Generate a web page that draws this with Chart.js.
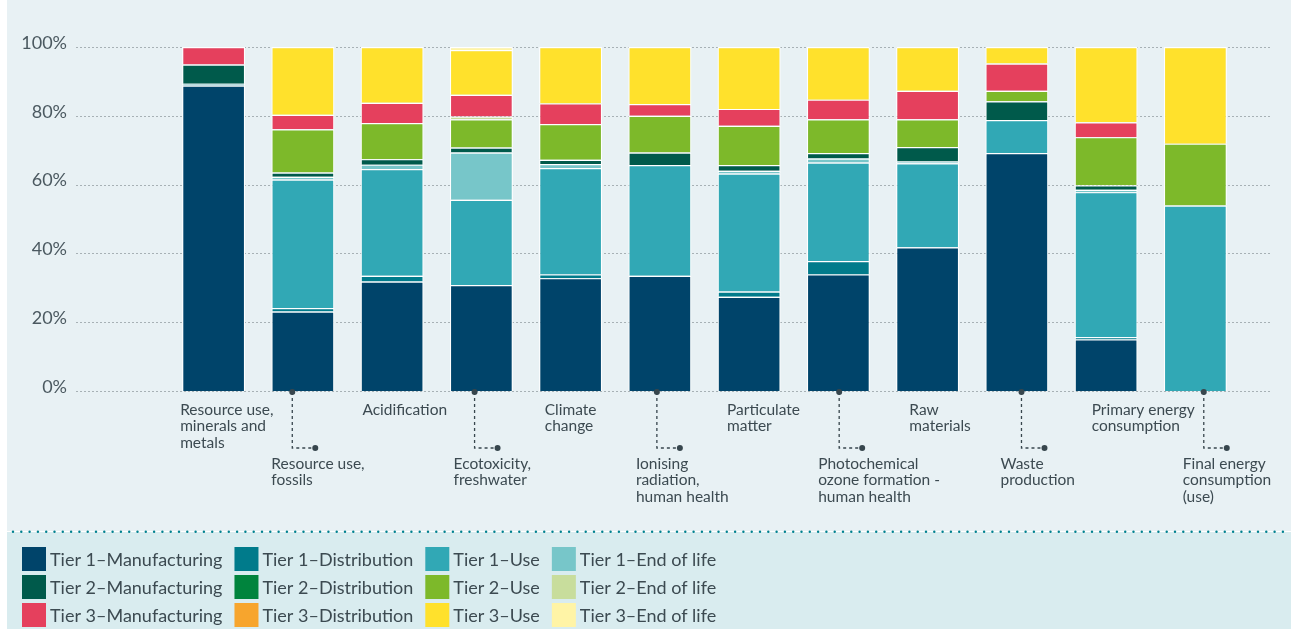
<!DOCTYPE html>
<html lang="en">
<head>
  <meta charset="UTF-8">
  <meta name="viewport" content="width=device-width, initial-scale=1.0">
  <title>Environmental impacts by tier and life-cycle stage</title>
  <style>
    html, body {
      margin: 0;
      padding: 0;
      overflow: hidden;
      background: linear-gradient(#e8f1f4 0, #e8f1f4 531px, #d9ecef 531px);
      font-family: Lato, Arial, sans-serif;
    }
    .chart-container {
      width: 1291px;
      height: 629px;
    }
    canvas { display: block; }
  </style>
</head>
<body>

<div class="chart-container">
  <canvas id="impactChart"></canvas>
</div>

<script src="https://cdn.jsdelivr.net/npm/chart.js"></script>
<script>
  // impact categories (one bar each), already split into label lines
  const categories = [
    ['Resource use,', 'minerals and', 'metals'],
    ['Resource use,', 'fossils'],
    ['Acidification'],
    ['Ecotoxicity,', 'freshwater'],
    ['Climate', 'change'],
    ['Ionising', 'radiation,', 'human health'],
    ['Particulate', 'matter'],
    ['Photochemical', 'ozone formation -', 'human health'],
    ['Raw', 'materials'],
    ['Waste', 'production'],
    ['Primary energy', 'consumption'],
    ['Final energy', 'consumption', '(use)']
  ];

  const yTicks = [0, 20, 40, 60, 80, 100];

  const seriesNames = [
    'Tier 1\u2013Manufacturing', 'Tier 1\u2013Distribution', 'Tier 1\u2013Use', 'Tier 1\u2013End of life',
    'Tier 2\u2013Manufacturing', 'Tier 2\u2013Distribution', 'Tier 2\u2013Use', 'Tier 2\u2013End of life',
    'Tier 3\u2013Manufacturing', 'Tier 3\u2013Distribution', 'Tier 3\u2013Use', 'Tier 3\u2013End of life'
  ];

  // share of each impact, %
  const tier1Manufacturing = [88.8, 23.1, 31.8, 30.8, 32.8, 33.5, 27.4, 33.9, 41.8, 69.2, 15.0, 0];
  const tier1Distribution  = [0.5, 1.0, 1.7, 0, 1.1, 0, 1.5, 3.9, 0, 0, 0.7, 0];
  const tier1Use           = [0, 37.4, 31.0, 24.8, 30.9, 32.2, 34.3, 28.6, 24.4, 9.6, 42.1, 53.9];
  const tier1EndOfLife     = [0, 0.8, 1.3, 13.7, 1.2, 0, 0.8, 1.2, 0.5, 0, 0.7, 0];
  const tier2Manufacturing = [5.6, 1.2, 1.6, 1.5, 1.2, 3.6, 1.7, 1.6, 4.2, 5.4, 1.3, 0];
  const tier2Distribution  = [0, 0, 0, 0, 0, 0, 0, 0, 0, 0, 0, 0];
  const tier2Use           = [0, 12.6, 10.5, 8.2, 10.4, 10.7, 11.4, 9.8, 8.1, 3.1, 14.0, 18.0];
  const tier2EndOfLife     = [0, 0, 0, 0.8, 0, 0, 0, 0, 0, 0, 0, 0];
  const tier3Manufacturing = [5.1, 4.2, 5.9, 6.3, 6.0, 3.4, 4.9, 5.7, 8.3, 7.9, 4.3, 0];
  const tier3Distribution  = [0, 0, 0, 0, 0, 0, 0, 0, 0, 0, 0, 0];
  const tier3Use           = [0, 19.7, 16.2, 13.0, 16.4, 16.6, 18.0, 15.3, 12.7, 4.8, 21.9, 28.1];
  const tier3EndOfLife     = [0, 0, 0, 0.9, 0, 0, 0, 0, 0, 0, 0, 0];

  const seriesValues = [
    tier1Manufacturing, tier1Distribution, tier1Use, tier1EndOfLife,
    tier2Manufacturing, tier2Distribution, tier2Use, tier2EndOfLife,
    tier3Manufacturing, tier3Distribution, tier3Use, tier3EndOfLife
  ];

  const tierColors = [
    '#00446a', '#007b8b', '#31a8b5', '#77c6c9',
    '#005a4b', '#00843d', '#7db92a', '#c8dd9c',
    '#e5405d', '#f7a52d', '#ffe12c', '#fff4a6'
  ];

  const TEXT = '#3c4a51';
  const FONT = 'Lato, "Open Sans", Arial, sans-serif';

  // panel backgrounds + dotted separator above the legend
  const panelPlugin = {
    id: 'panel',
    beforeDraw(chart) {
      const ctx = chart.ctx;
      ctx.save();
      ctx.fillStyle = '#ffffff';
      ctx.fillRect(0, 0, chart.width, chart.height);
      ctx.fillStyle = '#e8f1f4';
      ctx.fillRect(7, 0, chart.width - 7, 531);
      ctx.fillStyle = '#d9ecef';
      ctx.fillRect(7, 531, chart.width - 7, chart.height - 531);
      ctx.fillStyle = '#ffffff';
      ctx.fillRect(7, 531, chart.width - 7, 1);
      ctx.fillStyle = '#00818f';
      for (let x = 13; x < chart.width; x += 8.3) {
        ctx.beginPath();
        ctx.arc(x, 531.8, 1.2, 0, Math.PI * 2);
        ctx.fill();
      }
      ctx.restore();
    }
  };

  // dotted horizontal grid that runs wider than the bars
  const gridPlugin = {
    id: 'dottedGrid',
    beforeDatasetsDraw(chart) {
      const {ctx, scales: {y}} = chart;
      ctx.save();
      ctx.strokeStyle = '#a7b1b5';
      ctx.lineWidth = 1;
      ctx.setLineDash([2, 2]);
      y.ticks.forEach(t => {
        const py = Math.round(y.getPixelForValue(t.value)) + 0.5;
        ctx.beginPath();
        ctx.moveTo(76, py);
        ctx.lineTo(1271, py);
        ctx.stroke();
      });
      ctx.restore();
    }
  };

  // category labels in two staggered rows, lower row gets a dotted leader
  const labelPlugin = {
    id: 'staggeredLabels',
    afterDatasetsDraw(chart) {
      const {ctx, chartArea} = chart;
      const bars = chart.getDatasetMeta(0).data;
      const base = chartArea.bottom;
      ctx.save();
      ctx.font = '15.5px ' + FONT;
      ctx.fillStyle = TEXT;
      ctx.textAlign = 'left';
      ctx.textBaseline = 'middle';
      categories.forEach((lines, i) => {
        const bar = bars[i];
        const tx = bar.x - 33.5 + 1.9 * i; // labels drift a little right of the bars in the original
        const lower = i % 2 === 1;
        const top = base + (lower ? 73 : 19);
        lines.forEach((line, k) => ctx.fillText(line, tx, top + k * 16.3));
        if (lower) {
          const lx = tx + 21;
          ctx.strokeStyle = '#37464d';
          ctx.lineWidth = 1.3;
          ctx.setLineDash([3, 3]);
          ctx.beginPath();
          ctx.moveTo(lx, base + 1);
          ctx.lineTo(lx, base + 57);
          ctx.lineTo(lx + 23, base + 57);
          ctx.stroke();
          ctx.setLineDash([]);
          ctx.fillStyle = '#37464d';
          [[lx, base + 1], [lx + 23, base + 57]].forEach(([px, py]) => {
            ctx.beginPath();
            ctx.arc(px, py, 3, 0, Math.PI * 2);
            ctx.fill();
          });
          ctx.fillStyle = TEXT;
        }
      });
      ctx.restore();
    }
  };

  // 3 x 4 legend grid (rows = tiers, columns = stages)
  const legendPlugin = {
    id: 'gridLegend',
    afterDraw(chart) {
      const ctx = chart.ctx;
      const sets = chart.data.datasets;
      const cols = 4, box = 24;
      ctx.save();
      ctx.font = '18px ' + FONT;
      ctx.textAlign = 'left';
      ctx.textBaseline = 'middle';
      const colWidth = [];
      for (let c = 0; c < cols; c++) {
        let w = 0;
        for (let r = 0; r * cols + c < sets.length; r++) {
          w = Math.max(w, ctx.measureText(sets[r * cols + c].label).width);
        }
        colWidth.push(w);
      }
      sets.forEach((ds, i) => {
        const r = Math.floor(i / cols), c = i % cols;
        let x = 22;
        for (let k = 0; k < c; k++) x += box + 4 + colWidth[k] + 12;
        const y = 547 + r * 28;
        ctx.fillStyle = ds.backgroundColor;
        ctx.fillRect(x, y, box, box);
        ctx.fillStyle = TEXT;
        ctx.fillText(ds.label, x + box + 4, y + box / 2 + 1);
      });
      ctx.restore();
    }
  };

  const ctx = document.getElementById('impactChart').getContext('2d');
  const impactChart = new Chart(ctx, {
    type: 'bar',
    data: {
      labels: categories,
      datasets: seriesNames.map((name, i) => ({
        label: name,
        data: seriesValues[i],
        backgroundColor: tierColors[i],
        borderColor: '#ffffff',
        borderWidth: 1.2,
        barPercentage: 0.706,
        categoryPercentage: 1
      }))
    },
    options: {
      responsive: true,
      maintainAspectRatio: false,
      animation: false,
      layout: {
        // bottom space holds the staggered labels and the legend band
        padding: { top: 47, right: 51, bottom: 238, left: 0 }
      },
      plugins: {
        legend: { display: false },
        tooltip: { enabled: true }
      },
      scales: {
        x: {
          stacked: true,
          display: false
        },
        y: {
          stacked: true,
          min: 0,
          max: 100,
          grid: { display: false, drawTicks: false },
          border: { display: false },
          afterBuildTicks(scale) { scale.ticks = yTicks.map(v => ({ value: v })); },
          ticks: {
            padding: 102,
            labelOffset: -4,
            color: '#4b5960',
            font: { family: FONT, size: 18 },
            callback: v => v + '%'
          },
          afterFit(scale) {
            // wide label gap: keep the width, but drop the extra top/bottom padding it adds
            scale.width = 169;
            scale.paddingTop = 0;
            scale.paddingBottom = 0;
          }
        }
      }
    },
    plugins: [panelPlugin, gridPlugin, labelPlugin, legendPlugin]
  });
</script>

</body>
</html>
